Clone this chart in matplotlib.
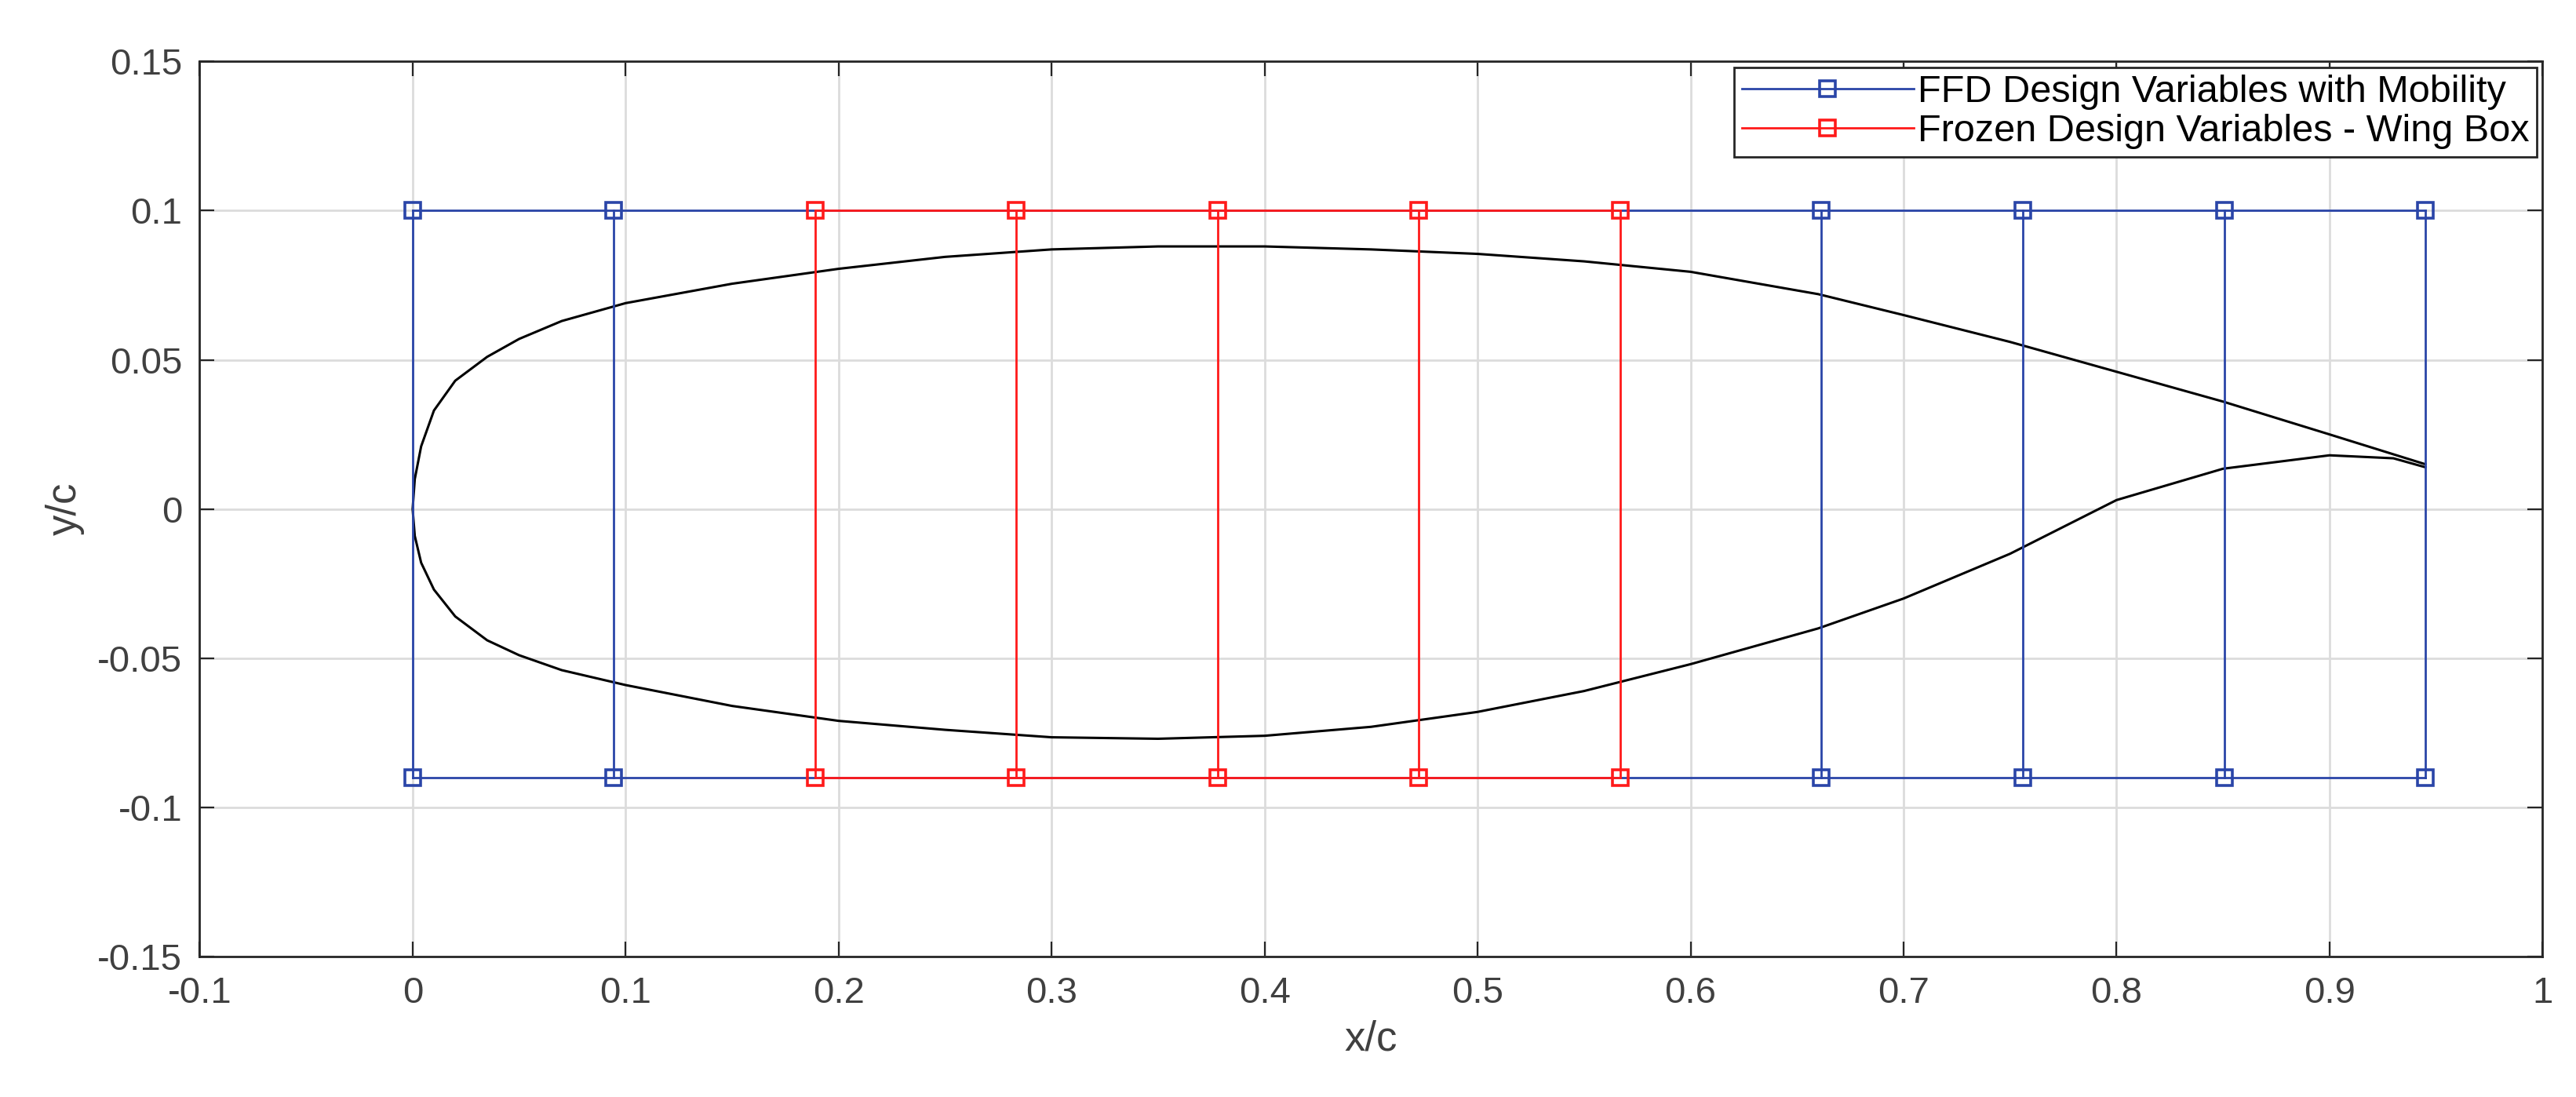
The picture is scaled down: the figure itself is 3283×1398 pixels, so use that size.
import matplotlib
matplotlib.use('Agg')
import matplotlib.pyplot as plt

plt.rcParams['font.family'] = ['Liberation Sans', 'DejaVu Sans']

# FFD control point columns
x_ffd = [0.0, 0.0945, 0.189, 0.2835, 0.378, 0.4725, 0.567, 0.6615, 0.756, 0.8505, 0.945]
y_top = 0.1
y_bot = -0.09
blue_idx = [0, 1, 7, 8, 9, 10]
red_idx = [2, 3, 4, 5, 6]

# airfoil (TE upper -> LE -> TE lower)
x_upper = [0.945, 0.9, 0.85, 0.8, 0.75, 0.7, 0.66, 0.6, 0.55, 0.5, 0.45, 0.4, 0.35, 0.3, 0.25, 0.2, 0.15, 0.1, 0.07, 0.05, 0.035, 0.02, 0.01, 0.004, 0.001, 0.0]
y_upper = [0.015, 0.025, 0.036, 0.046, 0.056, 0.065, 0.072, 0.0795, 0.083, 0.0855, 0.087, 0.088, 0.088, 0.087, 0.0845, 0.0805, 0.0755, 0.069, 0.063, 0.057, 0.051, 0.043, 0.033, 0.021, 0.010, 0.0]
x_lower = [0.0, 0.001, 0.004, 0.01, 0.02, 0.035, 0.05, 0.07, 0.1, 0.15, 0.2, 0.25, 0.3, 0.35, 0.4, 0.45, 0.5, 0.55, 0.6, 0.66, 0.7, 0.75, 0.8, 0.85, 0.9, 0.93, 0.945]
y_lower = [0.0, -0.009, -0.018, -0.027, -0.036, -0.044, -0.049, -0.054, -0.059, -0.066, -0.071, -0.074, -0.0765, -0.077, -0.076, -0.073, -0.068, -0.061, -0.052, -0.040, -0.030, -0.015, 0.003, 0.0135, 0.018, 0.017, 0.014]

blue = '#2a45a8'
red = '#ff1a1a'
txt = '#404040'

fig = plt.figure(figsize=(16.415, 6.99), dpi=200)
ax = fig.add_axes([0.0775, 0.128, 0.9095, 0.816])

ax.plot(x_upper + x_lower, y_upper + y_lower, color='black', lw=1.1)

# blue frame
ax.plot([x_ffd[0], x_ffd[-1]], [y_top, y_top], color=blue, lw=1.0)
ax.plot([x_ffd[0], x_ffd[-1]], [y_bot, y_bot], color=blue, lw=1.0)
for i in blue_idx:
    ax.plot([x_ffd[i], x_ffd[i]], [y_top, y_bot], color=blue, lw=1.0, marker='s', ms=7,
            mfc='none', mec=blue, mew=1.3)
# red frozen box
ax.plot([x_ffd[2], x_ffd[6]], [y_top, y_top], color=red, lw=1.0)
ax.plot([x_ffd[2], x_ffd[6]], [y_bot, y_bot], color=red, lw=1.0)
for i in red_idx:
    ax.plot([x_ffd[i], x_ffd[i]], [y_top, y_bot], color=red, lw=1.0, marker='s', ms=7,
            mfc='none', mec=red, mew=1.3)

h1, = ax.plot([], [], color=blue, lw=1.0, marker='s', ms=7, mfc='none', mec=blue, mew=1.3)
h2, = ax.plot([], [], color=red, lw=1.0, marker='s', ms=7, mfc='none', mec=red, mew=1.3)
leg = ax.legend([h1, h2], ['FFD Design Variables with Mobility', 'Frozen Design Variables - Wing Box'],
                loc='upper right', fontsize=17.5, fancybox=False, framealpha=1,
                edgecolor='#262626', borderaxespad=0.15, handlelength=4.5,
                handletextpad=0.1, labelspacing=0.1, borderpad=0.2)
leg.get_frame().set_linewidth(1.0)

ax.set_xlim(-0.1, 1.0)
ax.set_ylim(-0.15, 0.15)
ax.set_xticks([-0.1, 0, 0.1, 0.2, 0.3, 0.4, 0.5, 0.6, 0.7, 0.8, 0.9, 1])
ax.set_xticklabels(['-0.1', '0', '0.1', '0.2', '0.3', '0.4', '0.5', '0.6', '0.7', '0.8', '0.9', '1'])
ax.set_yticks([-0.15, -0.1, -0.05, 0, 0.05, 0.1, 0.15])
ax.set_yticklabels(['-0.15', '-0.1', '-0.05', '0', '0.05', '0.1', '0.15'])
ax.grid(True, color='#dcdcdc', lw=1.0)
ax.set_axisbelow(True)
ax.tick_params(labelsize=17, labelcolor=txt, color='#262626', direction='in', length=7,
               top=True, right=True)
ax.tick_params(axis='x', pad=9)
ax.tick_params(axis='y', pad=8)
for s in ax.spines.values():
    s.set_color('#262626')
    s.set_linewidth(1.0)
ax.set_xlabel('x/c', fontsize=19, color=txt, labelpad=4)
ax.set_ylabel('y/c', fontsize=19, color=txt, labelpad=6)

fig.savefig('out.png', dpi=200)
plt.close()
